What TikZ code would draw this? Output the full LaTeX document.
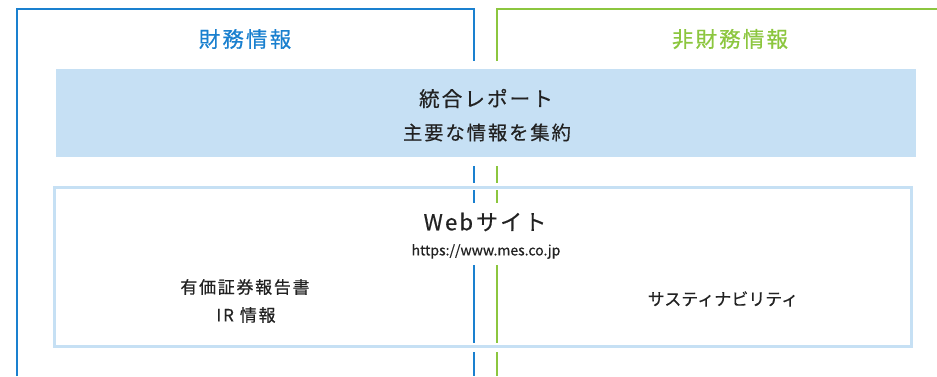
\documentclass[tikz,border=0pt]{standalone}
\usepackage{fontspec}
\newfontfamily\jp[FakeBold=0.5]{Noto Sans CJK JP}
\newfontfamily\jpls[LetterSpace=10,FakeBold=0.5]{Noto Sans CJK JP}
\definecolor{finblue}{HTML}{1A80CF}
\definecolor{nfgreen}{HTML}{8CC63F}
\definecolor{paleblue}{HTML}{C6E0F4}
\definecolor{txt}{HTML}{222222}
\tikzset{
  finline/.style={draw=finblue, line width=2pt},
  nfline/.style={draw=nfgreen, line width=2pt},
  lbl/.style={inner sep=0pt, text=txt, align=center},
}
\begin{document}
\begin{tikzpicture}[x=1pt,y=-1pt]
\useasboundingbox (0,0) rectangle (937,376);
% frames of the two columns
\draw[finline] (17,376) -- (17,9) -- (474,9) -- (474,61);
\draw[nfline] (497,61) -- (497,9) -- (938,9);
% integrated report band
\fill[paleblue] (56,69) rectangle (916,157);
% connector segments between the boxes
\draw[finline] (474,166) -- (474,183);
\draw[nfline] (497,166) -- (497,183);
% web site box
\draw[draw=paleblue, line width=3pt] (54,187.5) rectangle (911.5,346.5);
\draw[finline] (474,190) -- (474,203);
\draw[nfline] (497,190) -- (497,203);
\draw[finline] (474,265) -- (474,343);
\draw[nfline] (497,265) -- (497,343);
\draw[finline] (474,352) -- (474,376);
\draw[nfline] (497,352) -- (497,376);
% headings
\node[lbl, text=finblue] (fin) at (245,39) {\jpls\fontsize{21.5}{24}\selectfont 財務情報};
\node[lbl, text=nfgreen] (nonfin) at (730,39) {\jpls\fontsize{21.5}{24}\selectfont 非財務情報};
% report
\node[lbl] (report) at (486,98.5) {\jpls\fontsize{20.6}{24}\selectfont 統合レポート};
\node[lbl] (reportsub) at (487,132.5) {\jpls\fontsize{19.3}{22}\selectfont 主要な情報を集約};
% web
\node[lbl] (web) at (485,222) {\jpls\fontsize{22}{26}\selectfont Web\hspace{3pt}サイト};
\node[lbl] (url) at (486,251.5) {\jp\fontsize{14}{16}\selectfont https://www.mes.co.jp};
\node[lbl] (sec) at (245,287) {\jpls\fontsize{17}{20}\selectfont 有価証券報告書};
\node[lbl] (ir) at (246,315) {\jpls\fontsize{17}{20}\selectfont IR\hspace{6pt}情報};
\node[lbl] (sus) at (723,299) {\jp\fontsize{17}{20}\selectfont サスティナビリティ};
\end{tikzpicture}
\end{document}
